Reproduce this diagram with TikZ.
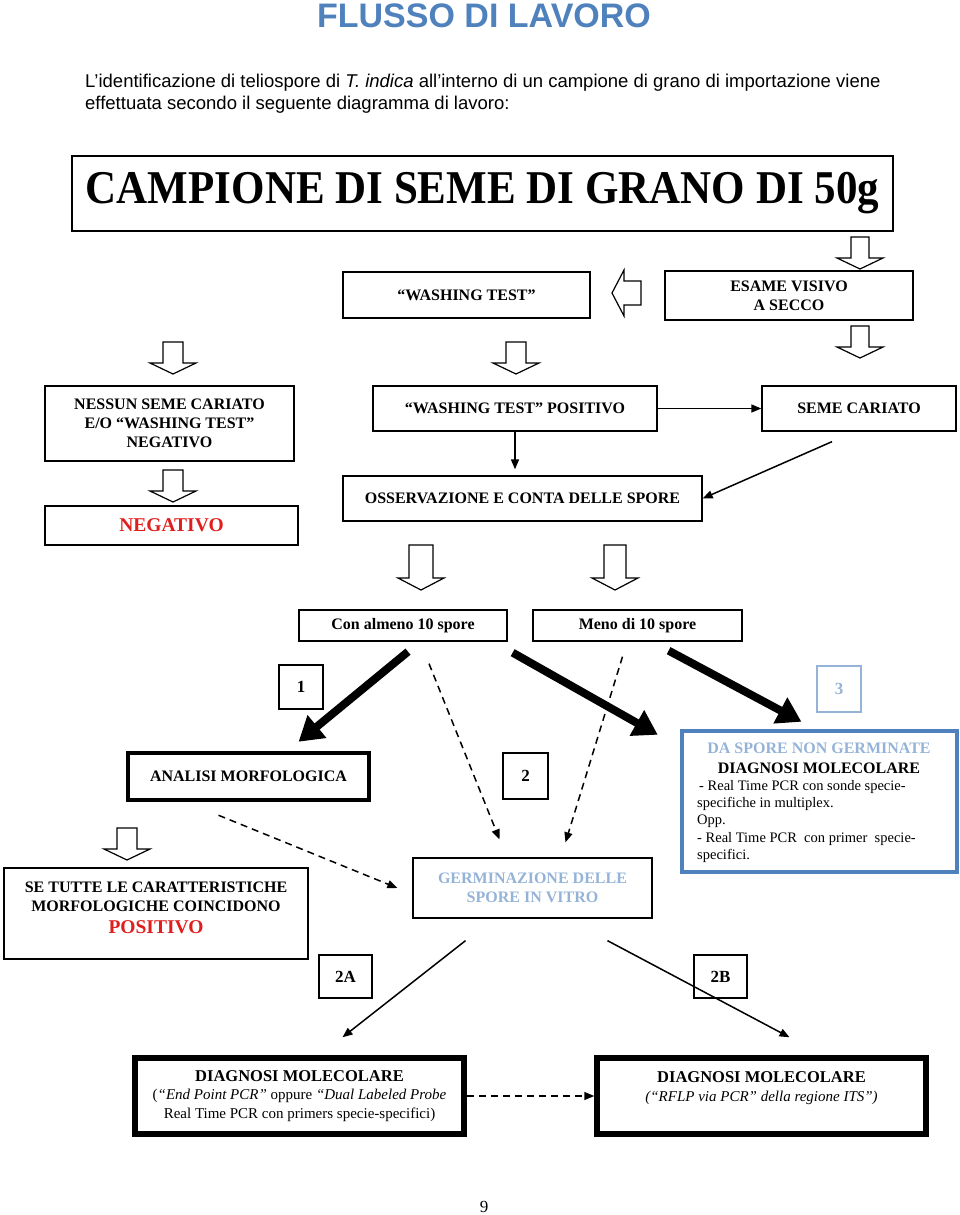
\documentclass[tikz,border=0pt]{standalone}
\usepackage{fontspec}
\usepackage{graphicx}
\setmainfont{Liberation Serif}
\newfontfamily\arialf{Liberation Sans}
\usetikzlibrary{arrows.meta,calc}
\definecolor{tblue}{HTML}{4F81BD}
\definecolor{lblue}{HTML}{95B3D7}
\definecolor{tred}{HTML}{E01E1E}
\newcommand{\fsz}[2]{\fontsize{#1}{#2}\selectfont}
\newcommand{\hdown}[5]{%
  \draw[hollow] ({#1-#4},#2) -- ({#1+#4},#2) -- ({#1+#4},#3) -- ({#1+23},#3) -- (#1,#5) -- ({#1-23},#3) -- ({#1-#4},#3) -- cycle;}
\begin{document}
\begin{tikzpicture}[x=1pt,y=-1pt,
  box/.style={draw, line width=1.3pt, inner sep=0pt, align=center, font=\fsz{16}{19}\bfseries},
  thickbox/.style={box, line width=4.5pt},
  numbox/.style={box, font=\fsz{17}{20}\bfseries},
  txt/.style={inner sep=0pt},
  thin/.style={line width=1.5pt, -{Triangle[length=10pt,width=8pt]}},
  fat/.style={line width=8pt, -{Triangle[length=24pt,width=28pt]}},
  dasharrow/.style={line width=1.5pt, dash pattern=on 7pt off 5pt, -{Triangle[length=10pt,width=8pt]}},
  hollow/.style={draw, line width=1.2pt, fill=white, line join=miter}
]
\useasboundingbox (0,0) rectangle (960,1215);

% header
\node[txt, anchor=base, font=\arialf\fsz{34}{40}\bfseries, text=tblue] (title) at (484,28) {FLUSSO DI LAVORO};
\node[txt, anchor=base west, font=\arialf\fsz{18.5}{21}] (intro1) at (85,88) {L’identificazione di teliospore di \textit{T. indica} all’interno di un campione di grano di importazione viene};
\node[txt, anchor=base west, font=\arialf\fsz{18.5}{21}] (intro2) at (85,109) {effettuata secondo il seguente diagramma di lavoro:};

% boxes
\node[box, minimum width=821pt, minimum height=75pt, font=\fsz{47}{50}\bfseries] (camp) at (482.5,193.5) {\scalebox{0.915}[1]{CAMPIONE DI SEME DI GRANO DI 50g}};
\node[box, minimum width=247pt, minimum height=46pt] (wash) at (466.5,295) {“WASHING TEST”};
\node[box, minimum width=248pt, minimum height=49pt] (esame) at (789,295.5) {ESAME VISIVO\\A SECCO};
\node[box, minimum width=249pt, minimum height=75pt] (nessun) at (169.5,423.5) {NESSUN SEME CARIATO\\E/O “WASHING TEST”\\NEGATIVO};
\node[box, minimum width=284pt, minimum height=45pt] (wpos) at (515,408.5) {“WASHING TEST” POSITIVO};
\node[box, minimum width=194pt, minimum height=45pt] (seme) at (859,408.5) {SEME CARIATO};
\node[box, minimum width=253pt, minimum height=39pt, font=\fsz{19.5}{23}\bfseries, text=tred] (neg) at (171.5,525.5) {NEGATIVO};
\node[box, minimum width=359pt, minimum height=45pt] (oss) at (522.5,498.5) {OSSERVAZIONE E CONTA DELLE SPORE};
\node[box, minimum width=208pt, minimum height=31pt] (con) at (403,625.5) {Con almeno 10 spore};
\node[box, minimum width=209pt, minimum height=31pt] (meno) at (637.5,625.5) {Meno di 10 spore};
\node[numbox, minimum width=44pt, minimum height=44pt] (n1) at (301,687) {1};
\node[numbox, draw=lblue, text=lblue, minimum width=44pt, minimum height=46pt] (n3) at (839,689) {3};
\node[thickbox, minimum width=241pt, minimum height=47pt] (anal) at (248.5,776.5) {ANALISI MORFOLOGICA};
\node[numbox, minimum width=45pt, minimum height=46pt] (n2) at (525.5,776) {2};
\node[draw=tblue, line width=4.5pt, inner sep=0pt, minimum width=275pt, minimum height=141pt] (blue) at (819.5,801.5) {};
\node[txt, anchor=north, align=center, font=\fsz{16}{20}\bfseries] (bluehead) at (819,743) {\textcolor{lblue}{DA SPORE NON GERMINATE}\\DIAGNOSI MOLECOLARE};
\node[txt, anchor=north west, align=left, font=\fsz{14.5}{17.3}] (bluebody) at (697,780) {\hspace{2pt}- Real Time PCR con sonde specie-\\specifiche in multiplex.\\Opp.\\- Real Time PCR\ \ con primer\ \ specie-\\specifici.};
\node[box, minimum width=304pt, minimum height=91pt] (setutte) at (156,913.5) {};
\node[txt, anchor=north, align=center, font=\fsz{16}{19}\bfseries] (setuttetxt) at (156,882) {SE TUTTE LE CARATTERISTICHE\\MORFOLOGICHE COINCIDONO\\[3pt]{\fsz{19.5}{23}\color{tred}POSITIVO}};
\node[box, minimum width=239pt, minimum height=60pt, text=lblue] (germ) at (532.5,888) {GERMINAZIONE DELLE\\SPORE IN VITRO};
\node[numbox, minimum width=53pt, minimum height=43pt] (n2a) at (345.5,976.5) {2A};
\node[numbox, minimum width=53pt, minimum height=43pt] (n2b) at (720.5,976.5) {2B};
\node[thickbox, line width=5.5pt, minimum width=329pt, minimum height=76pt, font=\fsz{15}{18.5}] (dl) at (299.5,1096) {{\fsz{16.5}{18.5}\bfseries DIAGNOSI MOLECOLARE}\\(\textit{“End Point PCR”} oppure \textit{“Dual Labeled Probe}\\Real Time PCR con primers specie-specifici)};
\node[thickbox, line width=5.5pt, minimum width=329pt, minimum height=76pt, font=\fsz{15}{18.5}] (dr) at (761.5,1096) {{\fsz{16.5}{18.5}\bfseries DIAGNOSI MOLECOLARE}\\\textit{(“RFLP via PCR” della regione ITS”)}\\\mbox{}};
\node[txt, anchor=base, font=\fsz{17}{20}] (pg) at (484,1212) {9};

% hollow block arrows
\hdown{860}{237}{258}{9}{269}
\hdown{173}{342}{363}{10}{374}
\hdown{516}{342}{363}{10}{374}
\hdown{860}{326}{347}{9}{358}
\hdown{173}{470}{491}{10}{502}
\hdown{421}{545}{578}{12}{590}
\hdown{615}{545}{578}{11}{590}
\hdown{127}{828}{849}{10}{860}
\draw[hollow] (641,281) -- (624,281) -- (624,270) -- (612,293) -- (624,316) -- (624,305) -- (641,305) -- cycle;

% connectors
\draw[thin] (wpos.east) -- (seme.west);
\draw[thin, shorten >=6pt] (wpos.south) -- (wpos.south |- oss.north);
\draw[thin] ($(seme.south)+(-27,10)$) -- (oss.east);
\draw[fat] ($(con.south)+(5,10)$) -- ($(anal.north)+(50,-9)$);
\draw[fat] ($(con.south east)+(5,11)$) -- ($(blue.north west)+(-22,6)$);
\draw[fat] ($(meno.south east)+(-74,9)$) -- ($(blue.north)+(-18,-7)$);
\draw[dasharrow] ($(con.south)+(26,22)$) -- ($(germ.north)+(-33,-18)$);
\draw[dasharrow] ($(meno.south)+(-15,15)$) -- ($(germ.north)+(33,-15)$);
\draw[dasharrow] ($(anal.south)+(-30,13)$) -- ($(germ.west)+(-15,0)$);
\draw[thin] ($(germ.south)+(-67,22)$) -- ($(dl.north)+(43,-18)$);
\draw[thin] ($(germ.south)+(75,22)$) -- ($(dr.north)+(28,-18)$);
\draw[dasharrow] (dl.east) -- (dr.west);
\end{tikzpicture}
\end{document}
